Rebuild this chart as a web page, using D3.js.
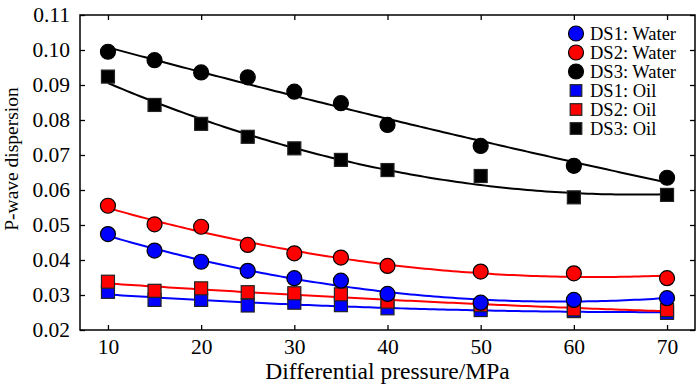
<!DOCTYPE html>
<html>
<head>
<meta charset="utf-8">
<script src="https://cdn.jsdelivr.net/npm/d3@7"></script>
<style>
    body { margin: 0; background: #fff; }
    text { font-family: "Liberation Serif", "Times New Roman", serif; fill: #000; }
</style>
</head>
<body>
<svg id="chart" width="700" height="388"></svg>
<script>
// pressure values (MPa)
const pressure = [10, 15, 20, 25, 30, 35, 40, 50, 60, 70]

// P-wave dispersion per sample / fluid
const ds1Water = [0.0474, 0.0427, 0.0395, 0.0369, 0.0348, 0.0341, 0.0303, 0.0278, 0.0286, 0.0291]
const ds2Water = [0.0555, 0.0502, 0.0495, 0.0443, 0.0419, 0.0407, 0.0383, 0.0367, 0.0362, 0.0348]
const ds3Water = [0.0995, 0.0971, 0.0936, 0.0922, 0.0881, 0.0848, 0.0786, 0.0726, 0.0669, 0.0635]
const ds1Oil = [0.0309, 0.0286, 0.0286, 0.0270, 0.0278, 0.0271, 0.0262, 0.0257, 0.0254, 0.0249]
const ds2Oil = [0.0338, 0.0312, 0.0319, 0.0308, 0.0305, 0.0302, 0.0281, 0.0271, 0.0259, 0.0257]
const ds3Oil = [0.0924, 0.0843, 0.0789, 0.0752, 0.0719, 0.0686, 0.0657, 0.0640, 0.0579, 0.0586]

const xTicks = [10, 20, 30, 40, 50, 60, 70]
const yTicks = [0.02, 0.03, 0.04, 0.05, 0.06, 0.07, 0.08, 0.09, 0.10, 0.11]

const series = [
    { name: "DS1: Oil", values: ds1Oil, color: "#0000ff", shape: "square" },
    { name: "DS2: Oil", values: ds2Oil, color: "#ff0000", shape: "square" },
    { name: "DS1: Water", values: ds1Water, color: "#0000ff", shape: "circle" },
    { name: "DS2: Water", values: ds2Water, color: "#ff0000", shape: "circle" },
    { name: "DS3: Oil", values: ds3Oil, color: "#000000", shape: "square" },
    { name: "DS3: Water", values: ds3Water, color: "#000000", shape: "circle" }
]
const legendOrder = ["DS1: Water", "DS2: Water", "DS3: Water", "DS1: Oil", "DS2: Oil", "DS3: Oil"]

const margin = { left: 80, top: 15, right: 695, bottom: 330 }
const serif = "'Liberation Serif', 'Times New Roman', serif"

const svg = d3.select("#chart")

const x = d3.scaleLinear().domain([7, 73]).range([margin.left, margin.right])
const y = d3.scaleLinear().domain([0.02, 0.11]).range([margin.bottom, margin.top])

// quadratic least squares fit
function quadFit(xs, ys) {
    let s = [0, 0, 0, 0, 0], t = [0, 0, 0]
    xs.forEach((xv, i) => {
        for (let k = 0; k < 5; k++) s[k] += Math.pow(xv, k)
        for (let k = 0; k < 3; k++) t[k] += Math.pow(xv, k) * ys[i]
    })
    const A = [[s[0], s[1], s[2], t[0]], [s[1], s[2], s[3], t[1]], [s[2], s[3], s[4], t[2]]]
    for (let i = 0; i < 3; i++) {
        for (let j = i + 1; j < 3; j++) {
            const f = A[j][i] / A[i][i]
            for (let k = i; k < 4; k++) A[j][k] -= f * A[i][k]
        }
    }
    const c = [0, 0, 0]
    for (let i = 2; i >= 0; i--) {
        let v = A[i][3]
        for (let k = i + 1; k < 3; k++) v -= A[i][k] * c[k]
        c[i] = v / A[i][i]
    }
    return xv => c[0] + c[1] * xv + c[2] * xv * xv
}

const line = d3.line().x(d => x(d[0])).y(d => y(d[1]))
const fine = d3.range(10, 70.01, 0.5)

// fit lines
series.forEach(s => {
    const f = quadFit(pressure, s.values)
    svg.append("path")
        .attr("d", line(fine.map(p => [p, f(p)])))
        .attr("fill", "none")
        .attr("stroke", s.color)
        .attr("stroke-width", 2)
})

// markers
function drawMarker(g, shape, cx, cy, color, size) {
    if (shape === "circle") {
        g.append("circle")
            .attr("cx", cx).attr("cy", cy).attr("r", size)
            .attr("fill", color).attr("stroke", "#000").attr("stroke-width", 1.2)
    } else {
        g.append("rect")
            .attr("x", cx - size).attr("y", cy - size)
            .attr("width", size * 2).attr("height", size * 2)
            .attr("fill", color).attr("stroke", "#222").attr("stroke-width", 1.2)
    }
}

series.forEach(s => {
    const g = svg.append("g")
    s.values.forEach((v, i) => {
        drawMarker(g, s.shape, x(pressure[i]), y(v), s.color, s.shape === "circle" ? 7.5 : 6.5)
    })
})

// frame
svg.append("rect")
    .attr("x", margin.left).attr("y", margin.top)
    .attr("width", margin.right - margin.left).attr("height", margin.bottom - margin.top)
    .attr("fill", "none").attr("stroke", "#000").attr("stroke-width", 1.5)

// axes with inward ticks
const xAxis = svg.append("g").attr("transform", `translate(0,${margin.bottom})`)
    .call(d3.axisBottom(x).tickValues(xTicks).tickSize(-5).tickPadding(9).tickFormat(d3.format("d")))
const xTop = svg.append("g").attr("transform", `translate(0,${margin.top})`)
    .call(d3.axisTop(x).tickValues(xTicks).tickSize(-5).tickFormat(""))
const yAxis = svg.append("g").attr("transform", `translate(${margin.left},0)`)
    .call(d3.axisLeft(y).tickValues(yTicks).tickSize(-5).tickPadding(10).tickFormat(d3.format(".2f")))
const yRight = svg.append("g").attr("transform", `translate(${margin.right},0)`)
    .call(d3.axisRight(y).tickValues(yTicks).tickSize(-5).tickFormat(""))

;[xAxis, xTop, yAxis, yRight].forEach(a => {
    a.attr("font-family", serif).attr("font-size", 21)
    a.select(".domain").remove()
    a.selectAll("line").attr("stroke", "#000").attr("stroke-width", 1.3)
    a.selectAll("text").style("font-family", serif).style("font-size", "21.5px")
})
xAxis.selectAll("text").attr("dy", "0.71em")

// axis titles
svg.append("text")
    .attr("x", (margin.left + margin.right) / 2).attr("y", 379)
    .attr("text-anchor", "middle")
    .style("font-size", "23.5px")
    .text("Differential pressure/MPa")
svg.append("text")
    .attr("transform", "translate(18,159) rotate(-90)")
    .attr("text-anchor", "middle")
    .style("font-size", "19.5px")
    .text("P-wave dispersion")

// legend
const legend = svg.append("g")
legendOrder.forEach((name, i) => {
    const s = series.find(d => d.name === name)
    const cy = 33.5 + i * 19
    drawMarker(legend, s.shape, 576, cy, s.color, s.shape === "circle" ? 7.5 : 5.8)
    legend.append("text")
        .attr("x", 590).attr("y", cy + 6.5)
        .style("font-size", "18.5px")
        .text(name)
})
</script>
</body>
</html>
